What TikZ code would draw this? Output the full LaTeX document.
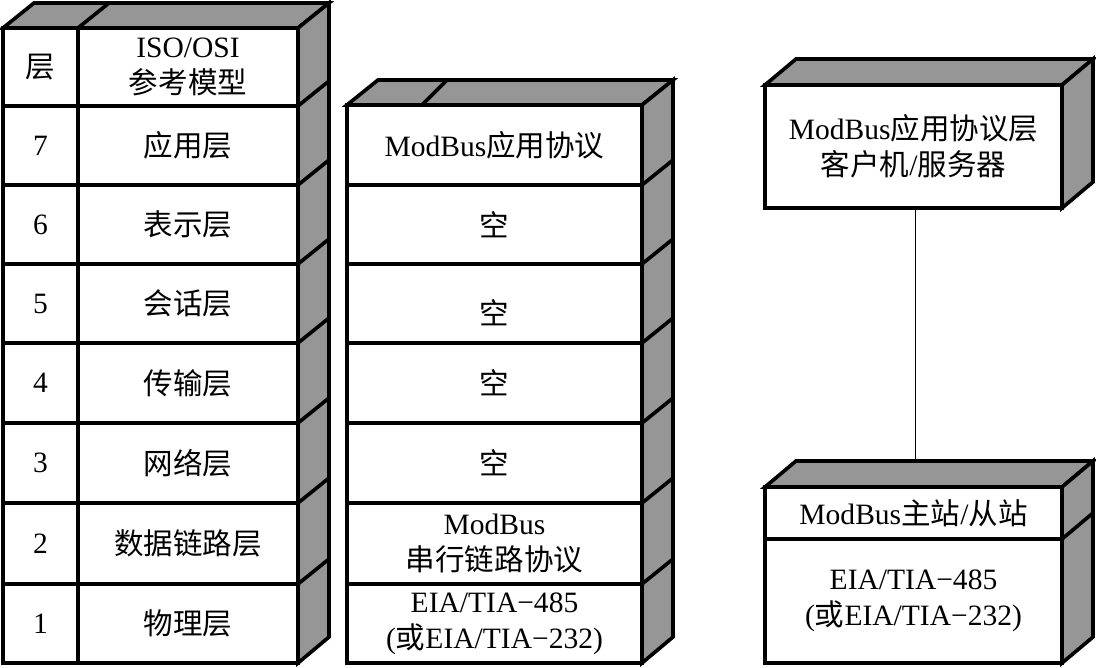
\documentclass[tikz,border=0pt]{standalone}
\usepackage{fontspec}
\setmainfont{Liberation Serif}
\newfontfamily\cjk{Noto Sans CJK SC}
\newcommand{\zh}[1]{{\cjk #1}}
\definecolor{sidegray}{RGB}{150,150,150}
\tikzset{
  cell/.style={draw, line width=2.6pt, rectangle, inner sep=0pt, align=center,
    font=\fontsize{21}{25.5}\selectfont},
  face/.style={draw, line width=2.6pt, fill=sidegray, line join=miter},
  edge/.style={line width=2.6pt},
  link/.style={line width=0.7pt}
}
\begin{document}
\begin{tikzpicture}[x=0.025cm, y=-0.025cm]
	\useasboundingbox (0,0) rectangle (1096,668);

	%OSI stack, faces
	\draw[face] (3,28) -- (34,3) -- (329,3) -- (298,28) -- cycle;
	\draw[face] (298,28) -- (329,3) -- (329,637) -- (298,663) -- cycle;
	\draw[edge] (78,28) -- (109,3);
	\foreach \y in {106,185,264,343,423,503,584}
		\draw[edge] (298,\y) -- (329,\y-25);

	%OSI stack, cells
	\node[cell, minimum width=1.875cm, minimum height=1.95cm] (hnum) at (40.5,67) {\zh{层}};
	\node[cell, minimum width=5.5cm, minimum height=1.95cm] (hname) at (188,67) {ISO/OSI\\\zh{参考模型}};
	\node[cell, minimum width=1.875cm, minimum height=1.975cm] (n7) at (40.5,145.5) {7};
	\node[cell, minimum width=5.5cm, minimum height=1.975cm] (osi7) at (188,145.5) {\zh{应用层}};
	\node[cell, minimum width=1.875cm, minimum height=1.975cm] (n6) at (40.5,224.5) {6};
	\node[cell, minimum width=5.5cm, minimum height=1.975cm] (osi6) at (188,224.5) {\zh{表示层}};
	\node[cell, minimum width=1.875cm, minimum height=1.975cm] (n5) at (40.5,303.5) {5};
	\node[cell, minimum width=5.5cm, minimum height=1.975cm] (osi5) at (188,303.5) {\zh{会话层}};
	\node[cell, minimum width=1.875cm, minimum height=2cm] (n4) at (40.5,383) {4};
	\node[cell, minimum width=5.5cm, minimum height=2cm] (osi4) at (188,383) {\zh{传输层}};
	\node[cell, minimum width=1.875cm, minimum height=2cm] (n3) at (40.5,463) {3};
	\node[cell, minimum width=5.5cm, minimum height=2cm] (osi3) at (188,463) {\zh{网络层}};
	\node[cell, minimum width=1.875cm, minimum height=2.025cm] (n2) at (40.5,543.5) {2};
	\node[cell, minimum width=5.5cm, minimum height=2.025cm] (osi2) at (188,543.5) {\zh{数据链路层}};
	\node[cell, minimum width=1.875cm, minimum height=1.975cm] (n1) at (40.5,623.5) {1};
	\node[cell, minimum width=5.5cm, minimum height=1.975cm] (osi1) at (188,623.5) {\zh{物理层}};

	%ModBus stack, faces
	\draw[face] (347,105) -- (378,80) -- (673,80) -- (642,105) -- cycle;
	\draw[face] (642,105) -- (673,80) -- (673,637) -- (642,663) -- cycle;
	\draw[edge] (422,105) -- (447,80);
	\foreach \y in {185,264,343,423,503,584}
		\draw[edge] (642,\y) -- (673,\y-25);

	%ModBus stack, cells
	\node[cell, minimum width=7.375cm, minimum height=2cm] (mb7) at (494.5,145) {ModBus\zh{应用协议}};
	\node[cell, minimum width=7.375cm, minimum height=1.975cm] (mb6) at (494.5,224.5) {\zh{空}};
	\node[cell, minimum width=7.375cm, minimum height=1.975cm, text height=1.05cm, text depth=0cm] (mb5) at (494.5,303.5) {\zh{空}};
	\node[cell, minimum width=7.375cm, minimum height=2cm] (mb4) at (494.5,383) {\zh{空}};
	\node[cell, minimum width=7.375cm, minimum height=2cm] (mb3) at (494.5,463) {\zh{空}};
	\node[cell, minimum width=7.375cm, minimum height=2.025cm] (mb2) at (494.5,543.5) {ModBus\\\zh{串行链路协议}};
	\node[cell, minimum width=7.375cm, minimum height=1.975cm] (mb1) at (494.5,623.5) {EIA/TIA−485\\(\zh{或}EIA/TIA−232)};

	%client/server box
	\draw[face] (765,85) -- (796,59) -- (1093,59) -- (1062,85) -- cycle;
	\draw[face] (1062,85) -- (1093,59) -- (1093,182) -- (1062,208) -- cycle;
	\node[cell, minimum width=7.425cm, minimum height=3.075cm] (app) at (913.5,146.5) {ModBus\zh{应用协议层}\\\zh{客户机}/\zh{服务器}};

	%master/slave box
	\coordinate (stntop) at (915,461);
	\draw[face] (765,487) -- (796,461) -- (1093,461) -- (1062,487) -- cycle;
	\draw[face] (1062,487) -- (1093,461) -- (1093,637) -- (1062,663) -- cycle;
	\draw[edge] (1062,539) -- (1093,513);
	\node[cell, minimum width=7.425cm, minimum height=1.3cm] (station) at (913.5,513) {ModBus\zh{主站}/\zh{从站}};
	\node[cell, minimum width=7.425cm, minimum height=3.1cm] (phys) at (913.5,601) {EIA/TIA−485\\(\zh{或}EIA/TIA−232)};

	%link between the boxes
	\draw[link] (app.south -| stntop) -- (stntop);

\end{tikzpicture}
\end{document}
